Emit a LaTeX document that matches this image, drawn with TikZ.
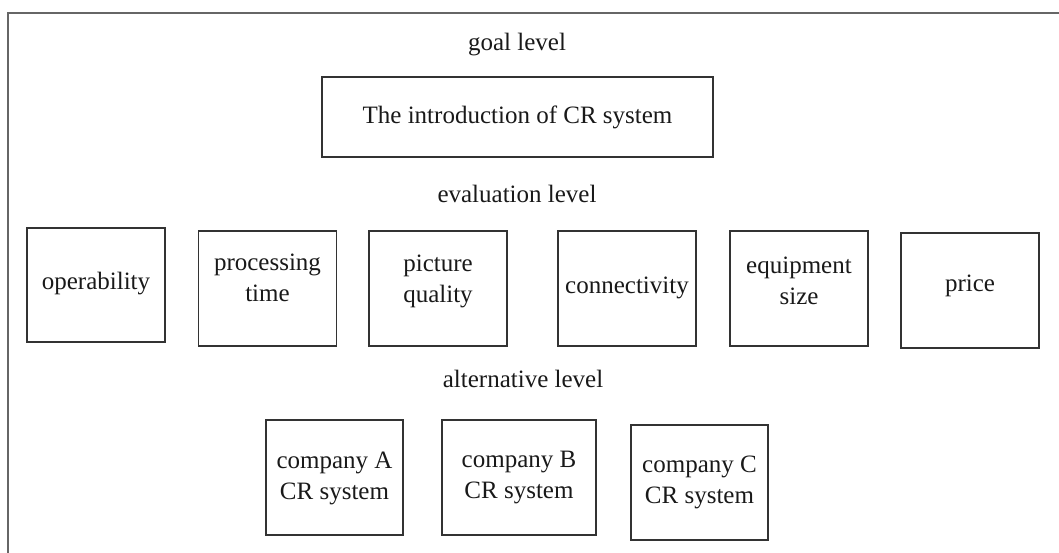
\documentclass[tikz,border=0pt]{standalone}
\usepackage{fontspec}
\setmainfont{Liberation Serif}
\usetikzlibrary{positioning}
\tikzset{
box/.style={draw=black!80, rectangle, line width=1.4pt, minimum width=138pt, minimum height=115pt, align=center, text=black!90, font=\fontsize{25}{31}\selectfont}, % box of one item
liftedtext/.style={text depth=#1}, % pushes the text up in its box
levelname/.style={draw=none, text=black!90, font=\fontsize{25}{31}\selectfont}, % name of a level
}

\begin{document}
\begin{tikzpicture}[x=1pt, y=-1pt]
        \useasboundingbox (0,0) rectangle (1059,553);
        \draw[line width=1.3pt, black!60] (8,553) -- (8,13) -- (1059,13);
        % goal level
        \node[levelname] at (517,45) (goallbl) {goal level};
        \node[box, minimum width=391pt, minimum height=80pt] at (517.5,117) (goal) {The introduction of CR system};
        % evaluation level
        \node[levelname] at (517,194) (evallbl) {evaluation level};
        \node[box, minimum height=114pt, liftedtext=9pt] at (96,285) (oper) {operability};
        \node[box, liftedtext=22pt] at (267.5,288.5) (proc) {processing\\time};
        \node[box, liftedtext=20pt] at (438,288.5) (pict) {picture\\quality};
        \node[box, liftedtext=7pt] at (627,288.5) (conn) {connectivity};
        \node[box, liftedtext=16pt] at (799,288.5) (equip) {equipment\\size};
        \node[box, liftedtext=14pt] at (970,290.5) (price) {price};
        % alternative level
        \node[levelname] at (523,379) (altlbl) {alternative level};
        \node[box, minimum width=137pt, liftedtext=3pt] at (334.5,477.5) (compA) {company A\\CR system};
        \node[box, minimum width=154pt, liftedtext=5pt] at (519,477.5) (compB) {company B\\CR system};
        \node[box, minimum width=137pt, liftedtext=5pt] at (699.5,482.5) (compC) {company C\\CR system};
    \end{tikzpicture}
\end{document}
